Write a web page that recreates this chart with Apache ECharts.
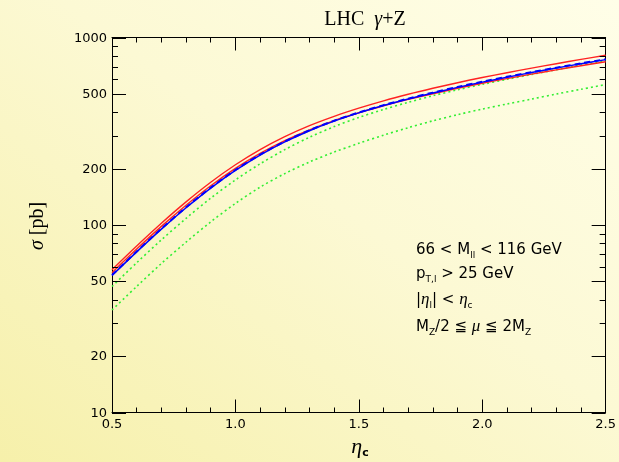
<!DOCTYPE html>
<html>
<head>
<meta charset="utf-8">
<script src="https://cdn.jsdelivr.net/npm/echarts@6/dist/echarts.min.js"></script>
<style>
html,body{margin:0;padding:0;}
#c{width:619px;height:462px;background:linear-gradient(to bottom left,#fffee8 0%,#fcf9d4 45%,#f6f0aa 100%);}
</style>
</head>
<body>
<div id="c"></div>
<script>
const etas = [0.5,0.6,0.7,0.8,0.9,1.0,1.1,1.2,1.3,1.4,1.5,1.6,1.7,1.8,1.9,2.0,2.1,2.2,2.3,2.4,2.5];
const redUpper   = [57.8,77.3,102.2,132.8,169,209.5,252.5,296,339,380,420,459.5,498,536,574,612,649,687,725,764,804];
const redLower   = [55.7,74.4,98.3,127.5,162,200.5,241,282,322,360.5,397,432.5,467.5,501.5,536,570,603.5,637.5,672,707,743];
const blueSolid  = [53.8,71.9,95.1,123.6,157.4,195.4,236.0,277.3,318.4,358.1,396.3,433.5,469.9,505.8,542.0,578.1,613.8,650.1,687.1,724.4,762.1];
const blueDashed = [54.1,72.3,95.6,124.2,158.2,196.4,237.2,278.7,320,360,398.3,435.7,472.2,508.3,544.7,581,616.9,653.4,690.5,728,766];
const greenUpper = [47.0,62.9,83.3,108.5,139.1,173.9,211.9,252.3,293.6,334.8,374.5,413.1,451.1,489.1,526.3,562.5,598.5,635.2,673.4,712.8,753];
const greenLower = [35.2,47.0,62.3,81.0,103.9,130.3,159.1,188.0,216.8,244.9,272.7,301.3,330.3,359.6,387.5,415.1,441.9,469.4,499.5,529.5,561];
const yTickLabels = [10,20,50,100,200,500,1000];
const yMinorTicks = [30,40,60,70,80,90,300,400,600,700,800,900];
const xMin = 0.5, xMax = 2.5, xStep = 0.5;

function pairs(ys){ return etas.map((x,i)=>[x,ys[i]]); }

const chart = echarts.init(document.getElementById('c'), null, {renderer:'canvas'});
const FONT = 'DejaVu Sans';
const axisCommon = {
  type:'value', min:xMin, max:xMax, interval:xStep,
  axisLine:{show:true,lineStyle:{color:'#000',width:1}},
  axisTick:{show:true,inside:true,length:13,lineStyle:{color:'#000',width:1}},
  minorTick:{show:true,splitNumber:5,length:5,lineStyle:{color:'#000',width:1}},
  splitLine:{show:false}, minorSplitLine:{show:false}
};
const yCommon = {
  type:'log', logBase:10, min:10, max:1000,
  axisLine:{show:true,lineStyle:{color:'#000',width:1}},
  axisTick:{show:false}, minorTick:{show:false},
  axisLabel:{show:false}, splitLine:{show:false}
};
function line(name, data, color, width, type){
  return {name, type:'line', data:pairs(data), showSymbol:false, smooth:0.3,
    lineStyle:{color, width, type}, z: 2};
}
chart.setOption({
  animation:false,
  title:{text:'LHC  {i|γ}+Z', left:360, textAlign:'center', top:5,
    textStyle:{fontFamily:'Liberation Serif', fontSize:20, fontWeight:'normal', color:'#000',
      rich:{i:{fontFamily:'Liberation Serif', fontStyle:'italic', fontSize:20, color:'#000'}}}},
  grid:{left:112, right:12, top:37.5, bottom:49.5, containLabel:false},
  xAxis:[
    Object.assign({}, axisCommon, {position:'bottom',
      axisLabel:{show:true, margin:6, fontFamily:FONT, fontSize:13, color:'#000',
        formatter:v=>v.toFixed(1)}}),
    Object.assign({}, axisCommon, {position:'top', axisLabel:{show:false}})
  ],
  yAxis:[
    Object.assign({}, yCommon, {position:'left'}),
    Object.assign({}, yCommon, {position:'right'})
  ],
  series:[
    line('greenLower', greenLower, '#33ee33', 1.6, [2,3]),
    line('greenUpper', greenUpper, '#33ee33', 1.6, [2,3]),
    line('redUpper', redUpper, '#ff2222', 1.4, 'solid'),
    line('redLower', redLower, '#ff2222', 1.4, 'solid'),
    line('blueSolid', blueSolid, '#0000ff', 1.5, 'solid'),
    line('blueDashed', blueDashed, '#0000ff', 2, [6,4])
  ]
});

const g = [];
const x0 = chart.convertToPixel({xAxisIndex:0}, xMin);
const x1 = chart.convertToPixel({xAxisIndex:0}, xMax);
function tick(y, len){
  g.push({type:'line', shape:{x1:x0, y1:y, x2:x0+len, y2:y}, style:{stroke:'#000', lineWidth:1}, z:10});
  g.push({type:'line', shape:{x1:x1-len, y1:y, x2:x1, y2:y}, style:{stroke:'#000', lineWidth:1}, z:10});
}
yTickLabels.forEach(v=>{
  const y = Math.round(chart.convertToPixel({yAxisIndex:0}, v))+0.5;
  tick(y, 14);
  g.push({type:'text', x:x0-5, y:y, style:{text:String(v), fontFamily:FONT, fontSize:13, fill:'#000', align:'right', verticalAlign:'middle'}, z:10});
});
yMinorTicks.forEach(v=>{
  const y = Math.round(chart.convertToPixel({yAxisIndex:0}, v))+0.5;
  tick(y, 6);
});
// axis titles
g.push({type:'text', x:38, y:226, rotation:Math.PI/2,
  style:{text:'{i|σ} [pb]', fontFamily:'Liberation Serif', fontSize:20, fill:'#000', align:'center', verticalAlign:'middle',
    rich:{i:{fontFamily:'Liberation Serif', fontStyle:'italic', fontSize:20}}}});
g.push({type:'text', x:360, y:447,
  style:{text:'{i|η}{s|c}', align:'center', verticalAlign:'middle',
    rich:{i:{fontFamily:'Liberation Serif', fontStyle:'italic', fontSize:22, lineHeight:24, verticalAlign:'middle'},
          s:{fontFamily:FONT, fontWeight:'bold', fontSize:11, lineHeight:14, verticalAlign:'bottom'}}}});
// annotation
const richA = {
  n:{fontFamily:FONT, fontSize:15, lineHeight:20, verticalAlign:'middle', fill:'#000'},
  s:{fontFamily:FONT, fontSize:9, lineHeight:12, verticalAlign:'bottom', fill:'#000'},
  m:{fontFamily:'Liberation Serif', fontStyle:'italic', fontSize:17, lineHeight:20, verticalAlign:'middle', fill:'#000'}
};
const annLines = [
  ['{n|66 < M}{s|ll}{n| < 116 GeV}', 250],
  ['{n|p}{s|T,l}{n| > 25 GeV}', 274],
  ['{n||}{m|η}{s|l}{n|| < }{m|η}{s|c}', 300],
  ['{n|M}{s|Z}{n|/2 ≦ }{m|μ}{n| ≦ 2M}{s|Z}', 327]
];
annLines.forEach(([t,y])=>{
  g.push({type:'text', x:416, y:y, style:{text:t, align:'left', verticalAlign:'middle', rich:richA}, z:10});
});
chart.setOption({graphic:g});
</script>
</body>
</html>
